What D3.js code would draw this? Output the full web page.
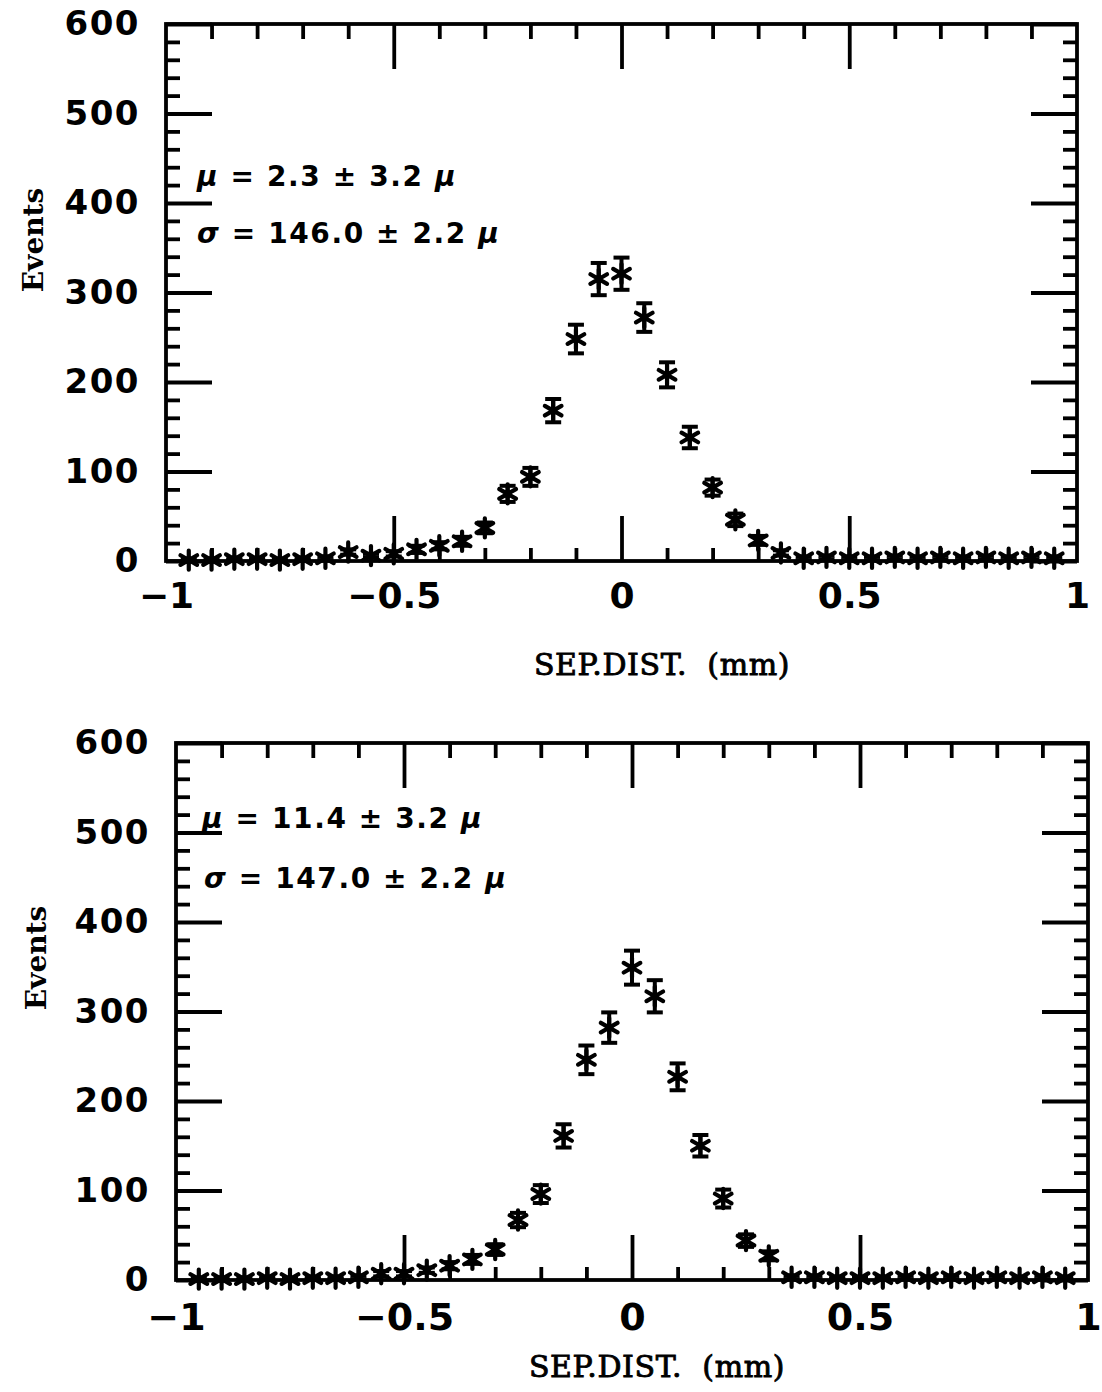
<!DOCTYPE html>
<html>
<head>
<meta charset="utf-8">
<script src="https://cdn.jsdelivr.net/npm/d3@7"></script>
<style>
  body { margin: 0; background: #fff; }
  text { fill: #000; }
</style>
</head>
<body>
<script>
const width = 1102,
  height = 1392;

// bin centres (mm)
const sepDist = [-0.95, -0.9, -0.85, -0.8, -0.75, -0.7, -0.65, -0.6, -0.55, -0.5,
  -0.45, -0.4, -0.35, -0.3, -0.25, -0.2, -0.15, -0.1, -0.05, 0,
  0.05, 0.1, 0.15, 0.2, 0.25, 0.3, 0.35, 0.4, 0.45, 0.5,
  0.55, 0.6, 0.65, 0.7, 0.75, 0.8, 0.85, 0.9, 0.95];

// upper histogram
const eventsTop = [1, 1, 2, 2, 1, 2, 3, 10, 6, 8,
  13, 17, 22, 37, 75, 94, 168, 248, 315, 321,
  272, 208, 138, 82, 46, 23, 9, 3, 4, 3,
  3, 4, 3, 4, 3, 4, 3, 4, 3];
const errTop = [1, 1, 1, 1, 1, 1, 2, 3, 2, 3,
  4, 4, 5, 6, 9, 10, 13, 16, 18, 18,
  16, 14, 12, 9, 7, 5, 3, 2, 2, 2,
  2, 2, 2, 2, 2, 2, 2, 2, 2];

// lower histogram
const eventsBottom = [1, 1, 1, 2, 1, 2, 2, 3, 7, 7,
  11, 16, 23, 34, 67, 96, 161, 246, 282, 349,
  317, 227, 150, 91, 44, 27, 3, 3, 2, 2,
  2, 3, 2, 3, 2, 3, 2, 3, 2];
const errBottom = [1, 1, 1, 1, 1, 1, 1, 2, 3, 3,
  3, 4, 5, 6, 8, 10, 13, 16, 17, 19,
  18, 15, 12, 10, 7, 5, 2, 2, 1, 1,
  1, 2, 1, 2, 1, 2, 1, 2, 1];

const yMajor = [0, 100, 200, 300, 400, 500, 600];
const xLabels = [-1, -0.5, 0, 0.5, 1];
const xMajor = [-0.5, 0, 0.5];
const xMinor = [-0.9, -0.8, -0.7, -0.6, -0.4, -0.3, -0.2, -0.1, 0.1, 0.2, 0.3, 0.4, 0.6, 0.7, 0.8, 0.9];

const fitTop = [['μ', ' = 2.3 ± 3.2 ', 'μ'], ['σ', ' = 146.0 ± 2.2 ', 'μ']];
const fitBottom = [['μ', ' = 11.4 ± 3.2 ', 'μ'], ['σ', ' = 147.0 ± 2.2 ', 'μ']];

const svg = d3.select('body').append('svg')
  .attr('width', width)
  .attr('height', height);

svg.append('rect').attr('width', width).attr('height', height).attr('fill', '#fff');

const star = d3.symbol().type(d3.symbolAsterisk).size(260);

function drawPanel(o) {
  const x = d3.scaleLinear().domain([-1, 1]).range(o.xr);
  const y = d3.scaleLinear().domain([0, 600]).range(o.yr);
  const g = svg.append('g');
  const yMinor = d3.range(0, 601, 20).filter(v => v % 100 !== 0);

  const styleAxis = sel => {
    sel.selectAll('.domain').remove();
    sel.selectAll('.tick line').attr('stroke', '#000').attr('stroke-width', 3.8);
  };

  // left
  g.append('g').attr('transform', `translate(${o.xr[0]},0)`)
    .call(d3.axisLeft(y).tickValues(yMinor).tickSize(-14).tickFormat(''))
    .call(styleAxis);
  g.append('g').attr('transform', `translate(${o.xr[0]},0)`)
    .call(d3.axisLeft(y).tickValues(yMajor).tickSize(-46).tickPadding(26).tickFormat(d3.format('d')))
    .call(styleAxis)
    .selectAll('text')
    .attr('font-family', 'DejaVu Sans').attr('font-weight', 'bold')
    .attr('font-size', 34).attr('letter-spacing', 1.5);

  // right
  g.append('g').attr('transform', `translate(${o.xr[1]},0)`)
    .call(d3.axisRight(y).tickValues(yMinor).tickSize(-14).tickFormat(''))
    .call(styleAxis);
  g.append('g').attr('transform', `translate(${o.xr[1]},0)`)
    .call(d3.axisRight(y).tickValues(yMajor).tickSize(-46).tickFormat(''))
    .call(styleAxis);

  // top
  g.append('g').attr('transform', `translate(0,${o.yr[1]})`)
    .call(d3.axisTop(x).tickValues(xMinor).tickSize(-15).tickFormat(''))
    .call(styleAxis);
  g.append('g').attr('transform', `translate(0,${o.yr[1]})`)
    .call(d3.axisTop(x).tickValues(xMajor).tickSize(-45).tickFormat(''))
    .call(styleAxis);

  // bottom
  g.append('g').attr('transform', `translate(0,${o.yr[0]})`)
    .call(d3.axisBottom(x).tickValues(xMinor).tickSize(-13).tickFormat(''))
    .call(styleAxis);
  g.append('g').attr('transform', `translate(0,${o.yr[0]})`)
    .call(d3.axisBottom(x).tickValues(xMajor).tickSize(-45).tickFormat(''))
    .call(styleAxis);
  g.append('g').attr('transform', `translate(0,${o.yr[0]})`)
    .call(d3.axisBottom(x).tickValues(xLabels).tickSize(0).tickPadding(o.xPad)
      .tickFormat(d => d3.format('')(d).replace('-', '−')))
    .call(styleAxis)
    .selectAll('text')
    .attr('font-family', 'DejaVu Sans').attr('font-weight', 'bold')
    .attr('font-size', o.xFont);

  // frame
  g.append('rect')
    .attr('x', o.xr[0]).attr('y', o.yr[1])
    .attr('width', o.xr[1] - o.xr[0]).attr('height', o.yr[0] - o.yr[1])
    .attr('fill', 'none').attr('stroke', '#000').attr('stroke-width', 3.8);

  // error bars and markers
  const pts = g.append('g').selectAll('g').data(o.values.map((v, i) => ({ x: sepDist[i], v, e: o.err[i] })))
    .join('g')
    .attr('stroke', '#000').attr('stroke-width', 4).attr('fill', 'none');
  pts.append('line')
    .attr('x1', d => x(d.x)).attr('x2', d => x(d.x))
    .attr('y1', d => y(d.v + d.e)).attr('y2', d => y(d.v - d.e));
  pts.append('line')
    .attr('x1', d => x(d.x) - 8).attr('x2', d => x(d.x) + 8)
    .attr('y1', d => y(d.v + d.e)).attr('y2', d => y(d.v + d.e));
  pts.append('line')
    .attr('x1', d => x(d.x) - 8).attr('x2', d => x(d.x) + 8)
    .attr('y1', d => y(d.v - d.e)).attr('y2', d => y(d.v - d.e));
  pts.append('circle')
    .attr('cx', d => x(d.x)).attr('cy', d => y(d.v))
    .attr('r', 4).attr('fill', '#000').attr('stroke', 'none');
  pts.append('path')
    .attr('d', star)
    .attr('stroke-width', 4.2)
    .attr('stroke-linecap', 'round')
    .attr('transform', d => `translate(${x(d.x)},${y(d.v)})`);

  // fit results
  o.fit.forEach((line, i) => {
    const t = g.append('text')
      .attr('x', o.fitX[i]).attr('y', o.fitY[i])
      .attr('font-family', 'DejaVu Sans').attr('font-weight', 'bold')
      .attr('font-size', 28).attr('letter-spacing', 1.6)
      .style('white-space', 'pre');
    t.append('tspan').attr('font-style', 'italic').text(line[0]);
    t.append('tspan').text(line[1]);
    t.append('tspan').attr('font-style', 'italic').text(line[2]);
  });

  // axis titles
  g.append('text')
    .attr('transform', `translate(${o.yTitle[0]},${o.yTitle[1]}) rotate(-90)`)
    .attr('text-anchor', 'middle')
    .attr('font-family', 'DejaVu Serif').attr('font-weight', 'bold')
    .attr('font-size', 28)
    .text('Events');
  g.append('text')
    .attr('x', o.xTitle[0]).attr('y', o.xTitle[1])
    .attr('text-anchor', 'middle')
    .attr('font-family', 'DejaVu Serif')
    .attr('font-size', 30).attr('letter-spacing', 0.6)
    .attr('stroke', '#000').attr('stroke-width', 0.9)
    .style('white-space', 'pre')
    .text('SEP.DIST.  (mm)');
}

drawPanel({
  xr: [166, 1077], yr: [561, 24],
  values: eventsTop, err: errTop, fit: fitTop,
  fitX: [197, 197], fitY: [186, 243],
  xPad: 21, xFont: 36,
  yTitle: [43, 240], xTitle: [662, 675]
});

drawPanel({
  xr: [176, 1088], yr: [1280, 743],
  values: eventsBottom, err: errBottom, fit: fitBottom,
  fitX: [202, 204], fitY: [828, 888],
  xPad: 23, xFont: 38,
  yTitle: [46, 958], xTitle: [657, 1377]
});
</script>
</body>
</html>
